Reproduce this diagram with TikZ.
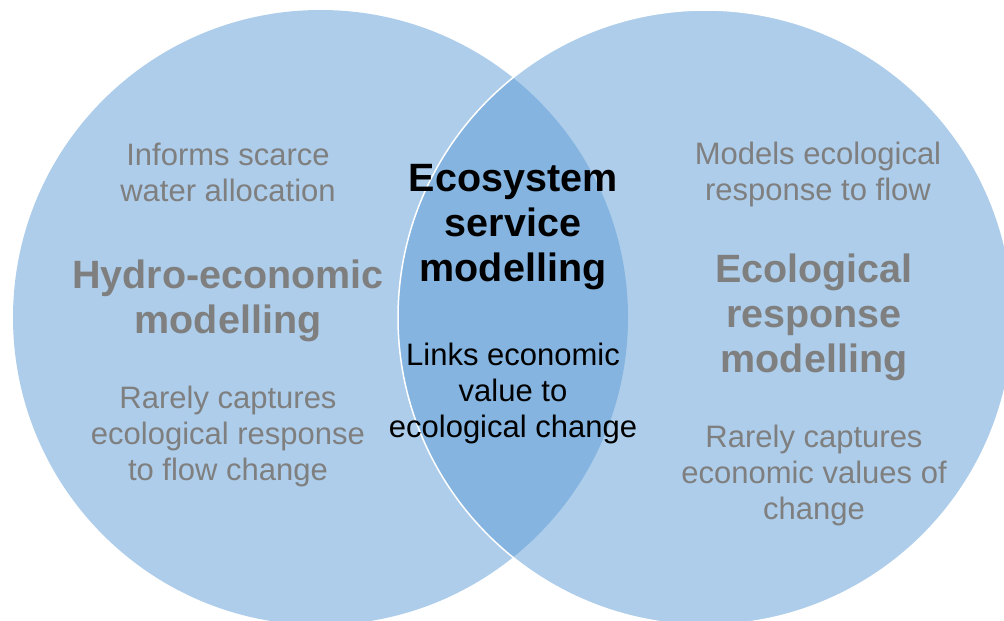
\documentclass[tikz,border=0pt]{standalone}
\usepackage{fontspec}
\setmainfont{Liberation Sans}
\definecolor{venn}{HTML}{5B9BD5}
\definecolor{txtgrey}{HTML}{7F7F7F}
\tikzset{
  vennset/.style={fill=venn, fill opacity=0.5},
  greytext/.style={text=txtgrey, align=center, inner sep=0pt, font=\fontsize{31}{36}\selectfont},
  greytitle/.style={text=txtgrey, align=center, inner sep=0pt, font=\fontsize{39.5}{45}\selectfont\bfseries},
  blacktext/.style={text=black, align=center, inner sep=0pt, font=\fontsize{31}{36}\selectfont},
  blacktitle/.style={text=black, align=center, inner sep=0pt, font=\fontsize{39.5}{45}\selectfont\bfseries}
}
\begin{document}
\begin{tikzpicture}[x=1pt,y=-1pt]
\useasboundingbox (0,0) rectangle (1004,621);
\begin{scope}
\clip (0,0) rectangle (1004,621);
\fill[vennset] (320.5,317.5) circle (307.5);
\filldraw[vennset, draw=white, draw opacity=1, line width=1.5pt] (705.5,317.5) circle (307.5);
\end{scope}
\node[greytext] (lt) at (228,172) {Informs scarce\\water allocation};
\node[greytitle] (lh) at (228,301) {Hydro-economic\\modelling};
\node[greytext] (lb) at (228,436) {Rarely captures\\ecological response\\to flow change};
\node[greytext] (rt) at (818,174) {Models ecological\\response to flow};
\node[greytitle] (rh) at (814,317) {Ecological\\response\\modelling};
\node[greytext] (rb) at (814,475) {Rarely captures\\economic values of\\change};
\node[blacktitle] (ct) at (513,227) {Ecosystem\\service\\modelling};
\node[blacktext] (cb) at (513,393) {Links economic\\value to\\ecological change};
\end{tikzpicture}
\end{document}
